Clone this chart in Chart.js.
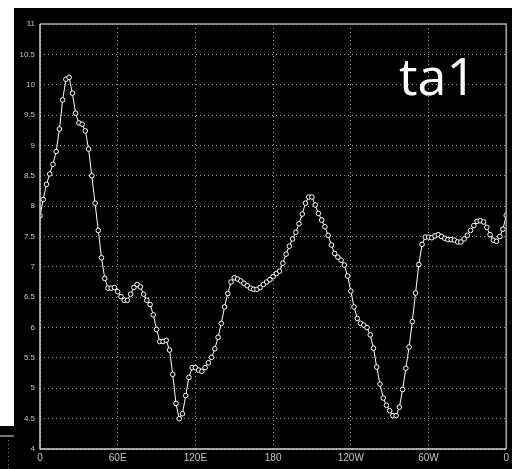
<!DOCTYPE html>
<html>
<head>
<meta charset="utf-8">
<script src="https://cdn.jsdelivr.net/npm/chart.js@4/dist/chart.umd.min.js"></script>
<style>
  html, body { margin: 0; padding: 0; background: #fff; }
  canvas { display: block; }
</style>
</head>
<body>
<canvas id="c" width="512" height="469"></canvas>
<script>
// Zonal profile of ta1 on a regular 2.5-degree longitude grid, 0 -> 360
const lonStep = 2.5;
const ta1 = [
  7.84, 8.11, 8.36, 8.53, 8.69, 8.90, 9.27, 9.75, 10.09, 10.12,
  9.86, 9.53, 9.37, 9.35, 9.24, 8.94, 8.50, 8.05, 7.60, 7.15,
  6.81, 6.65, 6.65, 6.66, 6.59, 6.51, 6.45, 6.45, 6.55, 6.66,
  6.71, 6.67, 6.55, 6.45, 6.38, 6.21, 5.97, 5.77, 5.77, 5.79,
  5.63, 5.23, 4.75, 4.50, 4.58, 4.88, 5.18, 5.34, 5.34, 5.30,
  5.28, 5.34, 5.42, 5.51, 5.65, 5.84, 6.07, 6.34, 6.56, 6.75,
  6.82, 6.80, 6.77, 6.73, 6.69, 6.65, 6.63, 6.63, 6.66, 6.71,
  6.75, 6.79, 6.84, 6.89, 6.93, 7.06, 7.21, 7.34, 7.46, 7.57,
  7.71, 7.87, 8.05, 8.15, 8.15, 8.02, 7.88, 7.77, 7.66, 7.52,
  7.36, 7.22, 7.16, 7.11, 7.03, 6.85, 6.60, 6.34, 6.15, 6.07,
  6.04, 6.00, 5.88, 5.66, 5.35, 5.07, 4.84, 4.72, 4.63, 4.55,
  4.55, 4.69, 4.98, 5.33, 5.68, 6.10, 6.57, 7.04, 7.37, 7.49,
  7.49, 7.48, 7.51, 7.53, 7.50, 7.47, 7.45, 7.45, 7.44, 7.41,
  7.41, 7.46, 7.52, 7.60, 7.68, 7.75, 7.76, 7.74, 7.65, 7.53,
  7.44, 7.42, 7.50, 7.62, 7.85
];
const xTickLabels = ['0', '60E', '120E', '180', '120W', '60W', '0'];
const yTickLabels = ['4', '4.5', '5', '5.5', '6', '6.5', '7', '7.5', '8',
                     '8.5', '9', '9.5', '10', '10.5', '11'];
const panelTitle = 'ta1';

const points = ta1.map((v, i) => ({ x: i * lonStep, y: v }));

// Panel backdrop: black plot panel with a sliver of the neighbouring panel
const backdrop = {
  id: 'backdrop',
  beforeDraw(chart) {
    const ctx = chart.ctx;
    const W = chart.width, H = chart.height;
    ctx.save();
    ctx.fillStyle = '#ffffff';
    ctx.fillRect(0, 0, W, H);
    ctx.fillStyle = '#000000';
    ctx.fillRect(14, 8, W - 14, H - 8);
    ctx.fillRect(0, 426, 14, H - 426);
    // edge of the neighbouring panel
    ctx.strokeStyle = '#9a9a9a';
    ctx.lineWidth = 1.5;
    ctx.beginPath();
    ctx.moveTo(0, 436); ctx.lineTo(14, 436);
    ctx.stroke();
    ctx.strokeStyle = '#6e6e6e';
    ctx.lineWidth = 1;
    ctx.setLineDash([1, 3]);
    ctx.beginPath();
    ctx.moveTo(8.5, 440); ctx.lineTo(8.5, H);
    ctx.stroke();
    ctx.restore();
  },
  afterDatasetsDraw(chart) {
    const ctx = chart.ctx;
    const a = chart.chartArea;
    ctx.save();
    // frame
    ctx.lineWidth = 1.5;
    ctx.strokeStyle = '#a8a8a8';
    ctx.beginPath();
    ctx.moveTo(a.left, a.top); ctx.lineTo(a.right, a.top); ctx.lineTo(a.right, a.bottom);
    ctx.stroke();
    ctx.strokeStyle = '#d6d6d6';
    ctx.beginPath();
    ctx.moveTo(a.left, a.top); ctx.lineTo(a.left, a.bottom); ctx.lineTo(a.right, a.bottom);
    ctx.stroke();
    // panel title
    ctx.fillStyle = '#ffffff';
    ctx.font = '52px "Open Sans", sans-serif';
    ctx.textAlign = 'left';
    ctx.textBaseline = 'alphabetic';
    ctx.fillText(panelTitle, 399, 95);
    ctx.restore();
  }
};

new Chart(document.getElementById('c'), {
  type: 'line',
  data: {
    datasets: [{
      label: panelTitle,
      data: points,
      borderColor: '#ffffff',
      borderWidth: 1,
      pointRadius: 2.3,
      pointBorderWidth: 1,
      pointBorderColor: '#ffffff',
      pointBackgroundColor: '#000000',
      tension: 0
    }]
  },
  options: {
    responsive: false,
    animation: false,
    devicePixelRatio: 1,
    layout: { padding: { top: 24, right: 5, left: 0, bottom: 0 } },
    plugins: { legend: { display: false }, tooltip: { enabled: false } },
    scales: {
      x: {
        type: 'linear',
        min: 0,
        max: 360,
        afterFit(s) { s.height = 20; },
        border: { display: false, dash: [1, 3] },
        grid: { color: '#999999', lineWidth: 1, drawTicks: false },
        ticks: {
          stepSize: 60,
          padding: 3,
          maxRotation: 0,
          autoSkip: false,
          color: '#c4c4c4',
          font: { family: '"Liberation Sans Narrow", "Liberation Sans", sans-serif', size: 10 },
          callback: (v, i) => xTickLabels[i]
        }
      },
      y: {
        min: 4,
        max: 11,
        afterFit(s) { s.width = 40; },
        border: { display: false, dash: [1, 3] },
        grid: { color: '#999999', lineWidth: 1, drawTicks: false },
        ticks: {
          stepSize: 0.5,
          padding: 5,
          autoSkip: false,
          color: '#c4c4c4',
          font: { family: '"Liberation Sans", sans-serif', size: 8 },
          callback: (v, i) => yTickLabels[i]
        }
      }
    }
  },
  plugins: [backdrop]
});
</script>
</body>
</html>
